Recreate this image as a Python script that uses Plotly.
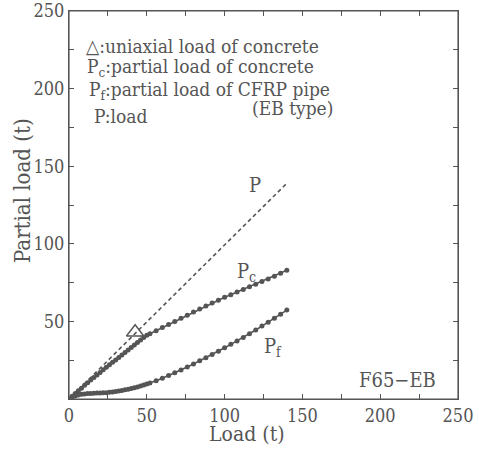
import plotly.graph_objects as go

# Dense early readings (Load, t)
load_dense = [0, 2, 4, 6, 8, 10, 12, 14, 16, 18, 20, 22, 24, 26, 28, 30, 32, 34, 36, 38, 40, 42, 44, 46, 48, 50]
pc_dense = [0, 1.8, 3.6, 5.3, 7.0, 8.8, 10.5, 12.2, 13.8, 15.5, 17.1, 18.8, 20.4, 22.0, 23.6, 25.2,
            26.8, 28.4, 30.0, 31.6, 33.2, 34.8, 36.4, 38.0, 39.6, 41.0]
pf_dense = [0, 1.2, 2.0, 2.6, 3.0, 3.3, 3.5, 3.6, 3.7, 3.8, 3.9, 4.0, 4.1, 4.3, 4.5, 4.8,
            5.1, 5.5, 5.9, 6.3, 6.8, 7.3, 7.8, 8.4, 9.0, 9.6]

# Later readings
load_sparse = [52, 56, 60, 64, 68, 72, 76, 80, 84, 88, 92, 96, 100, 104, 108, 112, 116, 120, 124, 128, 132, 136, 140]
pc_sparse = [42.0, 44.0, 46.0, 48.0, 50.0, 52.0, 54.0, 56.0, 58.0, 60.0, 61.9, 63.7, 65.5, 67.2, 68.9,
             70.6, 72.3, 74.0, 75.7, 77.4, 79.1, 81.0, 83.0]
pf_sparse = [10.3, 11.8, 13.4, 15.1, 16.9, 18.7, 20.6, 22.6, 24.6, 26.6, 28.7, 30.8, 33.0, 35.2, 37.4,
             39.7, 42.1, 44.5, 47.0, 49.5, 52.0, 54.6, 57.3]

# Total load line P
p_x = [0, 140]
p_y = [0, 139]

# Uniaxial load of concrete marker
tri_x = [42.5]
tri_y = [43]

x_ticks = [0, 50, 100, 150, 200, 250]
y_ticks = [50, 100, 150, 200, 250]

C = "#555555"
FONT = "DejaVu Serif Condensed"

fig = go.Figure()
fig.add_trace(go.Scatter(x=p_x, y=p_y, mode="lines",
                         line=dict(color=C, width=1.6, dash="4px,3px")))
fig.add_trace(go.Scatter(x=load_dense + load_sparse, y=pc_dense + pc_sparse, mode="lines+markers",
                         line=dict(color=C, width=1.6), marker=dict(color=C, size=5)))
fig.add_trace(go.Scatter(x=load_dense + load_sparse, y=pf_dense + pf_sparse, mode="lines+markers",
                         line=dict(color=C, width=1.6), marker=dict(color=C, size=5)))
fig.add_trace(go.Scatter(x=tri_x, y=tri_y, mode="markers",
                         marker=dict(symbol="triangle-up-open", size=15, color=C, line=dict(width=1.4, color=C))))

axis_common = dict(
    showline=True, linecolor=C, linewidth=1.2, mirror="ticks",
    ticks="inside", ticklen=5, tickcolor=C, tickwidth=1,
    minor=dict(ticks="inside", dtick=25, ticklen=5, tickcolor=C, tickwidth=1),
    showgrid=False, zeroline=False, automargin=False,
    ticklabeloverflow="allow",
    tickfont=dict(family=FONT, size=18, color=C),
    range=[0, 250],
)

fig.update_layout(
    width=479, height=449,
    margin=dict(l=69, r=21, t=11, b=50),
    paper_bgcolor="white", plot_bgcolor="white",
    showlegend=False,
    font=dict(family=FONT, color=C),
    xaxis=dict(**axis_common, tickvals=x_ticks),
    yaxis=dict(**axis_common, tickvals=y_ticks),
)

# plot frame
fig.add_shape(type="rect", xref="paper", yref="paper", x0=0, x1=1, y0=0, y1=1,
              line=dict(color=C, width=1.2), fillcolor="rgba(0,0,0,0)", layer="above")

PW, PH = 389.0, 388.0

def px_x(p):
    return (p - 69) / PW

def px_y(p):
    return (399 - p) / PH

def ann(text, x, y, size=19, xanchor="left", angle=0):
    fig.add_annotation(text=text, xref="paper", yref="paper", x=px_x(x), y=px_y(y), showarrow=False,
                       xanchor=xanchor, yanchor="middle", textangle=angle,
                       font=dict(family=FONT, size=size, color=C))

# axis titles
ann("Load (t)", 247, 434, size=21, xanchor="center")
ann("Partial load (t)", 22, 191, size=22, xanchor="center", angle=-90)

ann("△:uniaxial load of concrete", 84, 46)
ann("P<sub>c</sub>:partial load of concrete", 85, 67)
ann("P<sub>f</sub>:partial load of CFRP pipe", 87, 90)
ann("(EB type)", 250, 108)
ann("P:load", 92, 116)
ann("P", 255, 185, size=20, xanchor="center")
ann("P<sub>c</sub>", 246, 272, size=20, xanchor="center")
ann("P<sub>f</sub>", 273, 347, size=20, xanchor="center")
ann("F65−EB", 397, 380, size=20, xanchor="center")

fig.write_html("out.html")
